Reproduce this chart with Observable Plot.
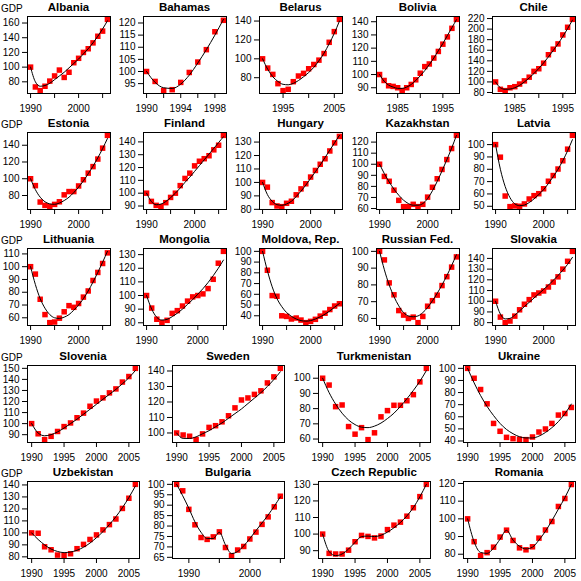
<!DOCTYPE html>
<html>
<head>
<meta charset="utf-8">
<script src="https://cdn.jsdelivr.net/npm/d3@7"></script>
<script src="https://cdn.jsdelivr.net/npm/@observablehq/plot@0.6"></script>
<style>
  html, body { margin: 0; padding: 0; background: #fff; }
  #chart { position: relative; width: 581px; height: 581px; overflow: hidden; font-family: "Liberation Sans", Arial, sans-serif; }
  .panel { position: absolute; }
  .ttl { position: absolute; font-weight: bold; font-size: 11.5px; line-height: 11.5px; text-align: center; white-space: nowrap; color: #000; }
  .gdp { position: absolute; font-size: 10px; line-height: 10px; color: #000; }
</style>
</head>
<body>
<div id="chart"></div>
<script>
const countries = ["Albania","Bahamas","Belarus","Bolivia","Chile",
  "Estonia","Finland","Hungary","Kazakhstan","Latvia",
  "Lithuania","Mongolia","Moldova, Rep.","Russian Fed.","Slovakia",
  "Slovenia","Sweden","Turkmenistan","Ukraine",
  "Uzbekistan","Bulgaria","Czech Republic","Romania"];
const panelsPerRow = [5, 5, 5, 4, 4];
const firstYear = [1990,1990,1991,1981,1981, 1990,1990,1990,1990,1990, 1990,1990,1990,1990,1990, 1990,1990,1990,1990, 1990,1988,1990,1990];

const gdp = [
  [100,73,68,74,81,88,96,86,93,106,112,120,125,133,142,149,165],
  [100,95.9,92.1,92.5,95.5,99.6,103.9,109,116.4,121.1],
  [100,90.2,83.5,73.7,66.3,67.7,75.8,81.8,84.6,89.5,94,98.6,105.6,117.5,128.8,141.8],
  [100,95.5,91.5,91,90,87.8,90,92.5,96,101,106,108,112.5,117.5,123,128.5,135,141.8],
  [100,86,83.5,89,91,96,102,109,120,125,135.5,151.5,162,172,189,203.5,218.5],
  [100,91.8,72.2,68.2,66.7,69.4,72.5,80.8,84.7,84.7,91.4,98.8,106.7,114.5,123.5,136.5,151.8],
  [100,93.6,90.5,89.5,92.6,96.7,100,105.9,111.5,115.6,121.3,124.9,126.9,129.2,133.8,137.4,145.1],
  [100,96.5,85,82.5,82,84.5,86,90.8,95.2,99,104,108.9,113.5,117.6,123.4,129.4,134.2],
  [100,89,84.6,76.6,67.4,61.7,61.7,63.8,61.7,63.8,70.3,79.2,86.9,95.3,104.2,114.2,126.1],
  [100,89.8,58.3,49.7,50.3,50,51.9,55.9,58.6,60.2,64.2,70.3,74.9,80.2,86.9,96.3,107.5],
  [100,94.2,74.5,62.5,56.2,56.7,59.7,64.7,69.5,68.2,71.2,76.2,81,89.2,95.5,102.5,110.8],
  [100,90.8,82.6,80.1,81.8,86.9,88.9,92.3,95.9,99,100,101.2,105.1,111.9,123.7,132.4],
  [100,82.4,58.8,58.2,40,39.4,37,37.9,36,33.6,34.8,36.7,39.7,42.4,45.8,49.1,51.2],
  [100,94.9,81.2,74.1,64.7,62,60,60.8,57.5,61.2,67.3,70.6,73.9,79.6,84.9,90.6,96.7],
  [100,85.2,80,81.5,86.1,92,97.2,101.5,105.9,107.7,109.6,113.3,117.9,122.8,130,137.3,146.6],
  [100,90.8,85.5,88.5,92.9,97.3,100.6,105.3,109.5,115.7,120.4,123.3,127.8,131.4,137.6,142.6,150],
  [100,98.7,97.9,95.7,99.4,103.6,104.7,107.2,111.1,116.2,121.3,122.6,124.9,127.2,132.3,136.2,141.7],
  [100,95.5,81.3,82.4,68.2,63.2,67.5,59.6,64.1,74.6,78.7,82.2,82.2,85.2,89.2,97.6,106.5],
  [100,91.8,82.5,70.7,54.5,48,43,41.9,41.4,41.1,43.3,47.4,49.9,54.5,61.4,62.7,67.7],
  [100,99.7,88.4,85.9,81.5,81,82.6,86.8,90.4,94.5,98.3,102.5,106.9,111.6,120.4,128.9,140.5],
  [100,96.9,88,80.6,74.5,73.6,74.8,77.2,69.7,65.8,68.5,70.2,73.8,77.1,80.8,84.4,89.2,94.3],
  [100,88.4,88,88,90.3,95.4,99.2,98.6,97.7,98.8,102.7,105.4,107.2,110.8,115.9,122.6,130],
  [100,87.1,79.2,80.9,84,89.7,93.6,87.8,83.6,82.5,84.2,89.1,93.7,98.5,107,111.5,119.4]
];

const fitted = [
  [100,80,74,75,78,83,88,93,99,105,111,118,125,133,142,152,163],
  [100,95.5,93.3,93,94.8,98.5,103.5,109,115,121.5],
  [100,89,81,76,73,72.5,74,77,81,85.5,91,98,106,116,127,140],
  [100,95,92,90.5,89.5,89.5,90.5,92.5,95.5,99,103,107.5,112.5,118,123.5,129.5,135.5,141.5],
  [100,89,86,86.5,89,93.5,100,107.5,116,125.5,136,147.5,159.5,172,186,201,217],
  [100,87,78,72.5,70,69.5,71,74,78,83.5,90,97.5,106,115,125,136,148],
  [100,93.5,91,91.5,93.5,96.5,100,104,108.5,112.5,117,121.5,126,130.5,135,139.5,144],
  [100,91,86,83.5,83,84,86,89.5,93.5,98,103,108,113,118.5,124,129.5,135],
  [100,91.5,84,77.5,72,67.5,64.5,63,63,64.5,69,76,84.5,94,104,114.5,126],
  [100,80,66,57,52,50.5,51,53,56,59.5,63.5,68.5,74,80,87,95,104],
  [100,86,75,67.5,62.5,60,59.5,60.5,62.5,66,70,75,81,88,95.5,103.5,112],
  [100,90,84,82,82.5,84.5,87,90,93.5,97,101,105,109.5,114.5,120,126],
  [100,82,67,56,48.5,43,39.5,37,35.5,35,35.5,37,39,41.5,44.5,48,51.5],
  [100,89,80,73,67.5,63.5,61.5,61,61.5,63.5,66.5,70.5,75,80,85.5,91.5,98],
  [100,88,83.5,84,87,91,95,99,103,107,111,115,119.5,124,129,134.5,141],
  [100,91.5,89,90,92.5,96,100,104,108.5,113,117.5,122,126.5,131,136,141.5,148],
  [100,96.5,96.5,97.5,99.5,101.5,104,106.5,109.5,112.5,115.5,119,122.5,126,130,134.5,139.5],
  [100,90.5,83,77,72.5,69.5,67.8,67.5,68.5,70.5,73.5,77,81.5,86.5,92,98,105],
  [100,88,77.5,68.5,61,54.5,49.5,46,43.5,42.5,42.5,44,47,51,56,62.5,70.5],
  [100,94.5,90,86.5,84.5,83.5,84,85.5,88,91.5,96,101,107,113.5,121,129.5,139],
  [100,94.5,88.5,82,77,74,74,77,71,66.8,67.8,70.5,74,77.8,81.5,85.3,89.5,94],
  [100,89.5,87,88,91,95,98.5,98.8,98.5,99.3,101.2,103.8,107,111,116,122.5,130],
  [100,87,81,80.5,83.5,88.5,93.5,88,84.5,83,84,88,93,99,105.5,112,119.5]
];

const yTicks = [
  [80,100,120,140,160],
  [95,100,105,110,115,120],
  [80,100,120,140],
  [90,100,110,120,130,140],
  [80,100,120,140,160,180,200,220],
  [80,100,120,140],
  [90,100,110,120,130,140],
  [80,90,100,110,120,130],
  [60,70,80,90,100,110,120],
  [50,60,70,80,90,100],
  [60,70,80,90,100,110],
  [80,90,100,110,120,130],
  [40,50,60,70,80,90,100],
  [60,70,80,90,100],
  [80,90,100,110,120,130,140],
  [90,100,110,120,130,140,150],
  [100,110,120,130,140],
  [60,70,80,90,100],
  [40,50,60,70,80,90,100],
  [80,90,100,110,120,130,140],
  [65,70,75,80,85,90,95,100],
  [90,100,110,120,130],
  [80,90,100,110,120]
];

const xTicks = [
  [1990,1995,2000,2005],[1990,1992,1994,1996,1998],[1995,2000,2005],[1985,1990,1995],[1985,1990,1995],
  [1990,1995,2000,2005],[1990,1995,2000,2005],[1990,1995,2000,2005],[1990,1995,2000,2005],[1990,1995,2000,2005],
  [1990,1995,2000,2005],[1990,1995,2000,2005],[1990,1995,2000,2005],[1990,1995,2000,2005],[1990,1995,2000,2005],
  [1990,1995,2000,2005],[1990,1995,2000,2005],[1990,1995,2000,2005],[1990,1995,2000,2005],
  [1990,1995,2000,2005],[1990,1995,2000,2005],[1990,1995,2000,2005],[1990,1995,2000,2005]
];
const xLabels = [
  [1990,2000],[1990,1994,1998],[1995,2005],[1985,1995],[1985,1995],
  [1990,2000],[1990,2000],[1990,2000],[1990,2000],[1990,2000],
  [1990,2000],[1990,2000],[1990,2000],[1990,2000],[1990,2000],
  [1990,1995,2000,2005],[1990,1995,2000,2005],[1990,1995,2000,2005],[1990,1995,2000,2005],
  [1990,1995,2000,2005],[1990,2000],[1990,1995,2000,2005],[1990,1995,2000,2005]
];

const chart = document.getElementById("chart");
const rowH = 116.2;
let idx = 0;
panelsPerRow.forEach((nc, r) => {
  const colW = 581 / nc;
  const top = Math.round(r * rowH);
  const g = document.createElement("div");
  g.className = "gdp";
  g.textContent = "GDP";
  g.style.left = "1px";
  g.style.top = (top + 4) + "px";
  chart.appendChild(g);
  for (let c = 0; c < nc; c++, idx++) {
    const i = idx;
    const left = Math.round(c * colW);
    const w = Math.round(colW);
    const y0 = firstYear[i];
    const pts = gdp[i].map((v, k) => ({year: y0 + k, value: v}));
    const fit = fitted[i].map((v, k) => ({year: y0 + k, value: v}));
    const n = gdp[i].length;
    const xpad = 0.04 * (n - 1);
    const allV = gdp[i].concat(fitted[i]);
    const lo = d3.min(allV), hi = d3.max(allV);
    const ypad = 0.04 * (hi - lo);
    const labs = xLabels[i];
    const svg = Plot.plot({
      width: w,
      height: 116,
      marginLeft: 27,
      marginRight: 6,
      marginTop: 16,
      marginBottom: 23,
      x: {domain: [y0 - xpad, y0 + n - 1 + xpad]},
      y: {domain: [lo - ypad, hi + ypad]},
      style: {fontFamily: "'Liberation Sans', Arial, sans-serif", fontSize: "10px", color: "black", background: "transparent", overflow: "visible"},
      marks: [
        Plot.axisY({ticks: yTicks[i], tickSize: 5, tickPadding: 3, label: null, tickFormat: d => String(d)}),
        Plot.axisX({ticks: xTicks[i], tickSize: 5, tickPadding: 6, label: null, tickFormat: d => labs.includes(d) ? String(d) : ""}),
        Plot.dot(pts, {x: "year", y: "value", symbol: "square", r: 3.1, fill: "#ff0000", stroke: "none"}),
        Plot.line(fit, {x: "year", y: "value", curve: "monotone-x", stroke: "black", strokeWidth: 1}),
        Plot.frame({stroke: "black"})
      ]
    });
    const p = document.createElement("div");
    p.className = "panel";
    p.style.left = left + "px";
    p.style.top = top + "px";
    p.appendChild(svg);
    chart.appendChild(p);
    const t = document.createElement("div");
    t.className = "ttl";
    t.textContent = countries[i];
    t.style.left = (left + 27) + "px";
    t.style.width = (w - 33) + "px";
    t.style.top = (top + 2) + "px";
    chart.appendChild(t);
  }
});
</script>
</body>
</html>
